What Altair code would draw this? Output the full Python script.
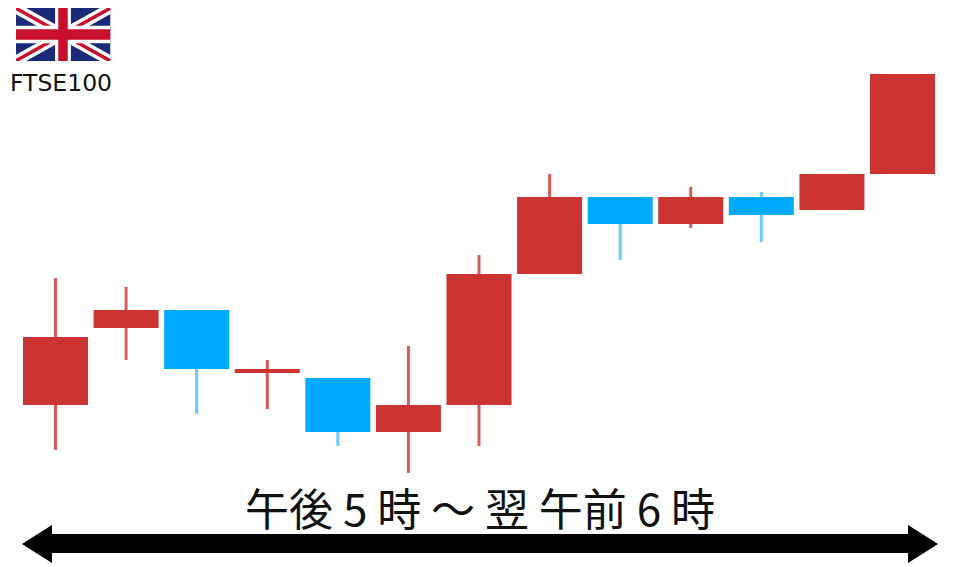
import urllib.parse
import altair as alt
import pandas as pd

# Candle values: price units
slots = list(range(13))
opens = [154, 231, 249, 186, 181, 127, 154, 285, 362, 335, 362, 349, 385]
closes = [222, 249, 190, 190, 127, 154, 285, 362, 335, 362, 344, 385, 485]
highs = [281, 272, 249, 199, 181, 213, 304, 385, 362, 372, 367, 385, 485]
lows = [109, 199, 145, 150, 113, 86, 113, 285, 299, 331, 317, 349, 385]
title_text = "午後 5 時 ～ 翌 午前 6 時"
label_text = "FTSE100"

RED = "#cc3333"
BLUE = "#00aaff"
RED_WICK = "#d65a5a"
BLUE_WICK = "#66ccff"

df = pd.DataFrame({"slot": slots, "open": opens, "close": closes, "high": highs, "low": lows})
df["rising"] = df["close"] >= df["open"]

W, H = 944, 556
xs = alt.Scale(domain=[0, 12], range=[47.5, 894.5])
ys = alt.Scale(domain=[0, 551], range=[551, 0])
colour = alt.Color("rising:N", scale=alt.Scale(domain=[True, False], range=[RED, BLUE]), legend=None)
wick_colour = alt.Color("rising:N", scale=alt.Scale(domain=[True, False], range=[RED_WICK, BLUE_WICK]), legend=None)

base = alt.Chart(df)
wicks = base.mark_rule(strokeWidth=3).encode(
    x=alt.X("slot:Q", scale=xs, axis=None),
    y=alt.Y("high:Q", scale=ys, axis=None),
    y2="low:Q",
    color=wick_colour,
)
bodies = base.mark_rule(strokeWidth=65).encode(
    x=alt.X("slot:Q", scale=xs, axis=None),
    y=alt.Y("open:Q", scale=ys, axis=None),
    y2="close:Q",
    color=colour,
)

# Arrow
shaft = alt.Chart(pd.DataFrame({"x": [40], "x2": [904], "y": [526], "y2": [545]})).mark_rect(color="black").encode(
    x=alt.X("x:Q", scale=None), x2="x2:Q", y=alt.Y("y:Q", scale=None), y2="y2:Q"
)
head_df = pd.DataFrame({
    "x": [14, 44, 900, 930],
    "y": [536, 517, 517, 536],
    "y2": [536, 555, 555, 536],
    "side": ["l", "l", "r", "r"],
})
heads = alt.Chart(head_df).mark_area(color="black").encode(
    x=alt.X("x:Q", scale=None), y=alt.Y("y:Q", scale=None), y2="y2:Q", detail="side:N"
)

# Flag
flag_svg = (
    "<svg xmlns='http://www.w3.org/2000/svg' viewBox='0 0 60 30' width='95' height='53' preserveAspectRatio='none'>"
    "<rect width='60' height='30' fill='#1b2a78'/>"
    "<path d='M0,0 L60,30 M60,0 L0,30' stroke='#fff' stroke-width='6'/>"
    "<path d='M0,0 L60,30 M60,0 L0,30' stroke='#c8102e' stroke-width='2'/>"
    "<path d='M30,0 V30 M0,15 H60' stroke='#fff' stroke-width='10'/>"
    "<path d='M30,0 V30 M0,15 H60' stroke='#c8102e' stroke-width='6'/>"
    "</svg>"
)
flag_url = "data:image/svg+xml," + urllib.parse.quote(flag_svg)
flag = alt.Chart(pd.DataFrame({"x": [55], "y": [26.5], "u": [flag_url]})).mark_image(width=95, height=53, aspect=False).encode(
    x=alt.X("x:Q", scale=None), y=alt.Y("y:Q", scale=None), url="u:N"
)

label = alt.Chart(pd.DataFrame({"x": [53], "y": [76], "t": [label_text]})).mark_text(
    font="DejaVu Sans", fontSize=23.5, color="#111111"
).encode(x=alt.X("x:Q", scale=None), y=alt.Y("y:Q", scale=None), text="t:N")

title = alt.Chart(pd.DataFrame({"x": [472], "y": [505], "t": [title_text]})).mark_text(
    font="Noto Sans CJK JP", fontSize=44, color="#111111"
).encode(x=alt.X("x:Q", scale=None), y=alt.Y("y:Q", scale=None), text="t:N")

chart = alt.layer(wicks, bodies, shaft, heads, flag, label, title).resolve_scale(
    x="independent", y="independent", color="independent"
).properties(
    width=W, height=H, padding=0, autosize=alt.AutoSizeParams(type="none"), background="white"
).configure_view(stroke=None)

chart.save("out.html", embed_options={"renderer": "svg", "actions": False})
